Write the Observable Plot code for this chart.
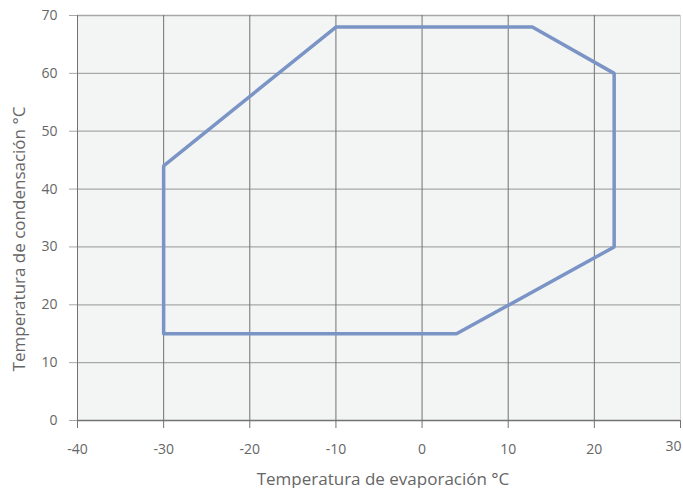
<!DOCTYPE html>
<html><head><meta charset="utf-8">
<script src="https://cdn.jsdelivr.net/npm/d3@7"></script>
<script src="https://cdn.jsdelivr.net/npm/@observablehq/plot@0.6"></script>
<style>body{margin:0;background:#fff}</style>
</head><body><div id="chart"></div>
<script>
const evap = [-30, 4, 22.3, 22.3, 12.8, -10, -30, -30];
const cond = [15, 15, 30, 60, 68, 68, 44, 15];
const xTicks = [-40, -30, -20, -10, 0, 10, 20, 30];
const yTicks = [0, 10, 20, 30, 40, 50, 60, 70];
const xLabel = "Temperatura de evaporación °C";
const yLabel = "Temperatura de condensación °C";

const pts = evap.map((x, i) => ({x, y: cond[i]}));
const fmt = d => String(d).replace("−", "-");
const lastX = xTicks[xTicks.length - 1];

const chart = Plot.plot({
  width: 683, height: 488,
  marginLeft: 77, marginTop: 15, marginBottom: 68, marginRight: 3,
  style: {fontFamily: "'Open Sans', sans-serif", fontSize: "14px", color: "#666", background: "#fff"},
  x: {domain: [-40, 30]},
  y: {domain: [0, 70]},
  marks: [
    Plot.frame({fill: "#f3f4f4", stroke: "#d0d0d0"}),
    Plot.ruleY(yTicks.slice(1), {stroke: "#a8a8a8", strokeWidth: 1.3}),
    Plot.ruleX(xTicks.slice(1, -1), {stroke: "#727272", strokeWidth: 1}),
    Plot.ruleY([0], {stroke: "#727272", strokeWidth: 1.3}),
    Plot.ruleX([-40], {stroke: "#727272", strokeWidth: 1}),
    Plot.axisX({ticks: xTicks, tickSize: 8, tickPadding: 16, stroke: "#727272", tickFormat: d => d === lastX ? "" : fmt(d), label: null}),
    Plot.text([lastX], {x: d => d, text: d => fmt(d), frameAnchor: "bottom", lineAnchor: "top", textAnchor: "end", dy: 21, dx: 1, fill: "#666"}),
    Plot.axisY({ticks: yTicks, tickSize: 8, tickPadding: 12, stroke: "#a8a8a8", label: null}),
    Plot.text([xLabel], {frameAnchor: "bottom", dy: 64, dx: 4, fontSize: 17, fill: "#666"}),
    Plot.text([yLabel], {frameAnchor: "left", textAnchor: "middle", dx: -58, dy: 21, rotate: -90, fontSize: 17, fill: "#666"}),
    Plot.line(pts, {x: "x", y: "y", stroke: "#7b94c6", strokeWidth: 3.5, strokeLinejoin: "miter"})
  ]
});
document.getElementById("chart").append(chart);
</script>
</body></html>
